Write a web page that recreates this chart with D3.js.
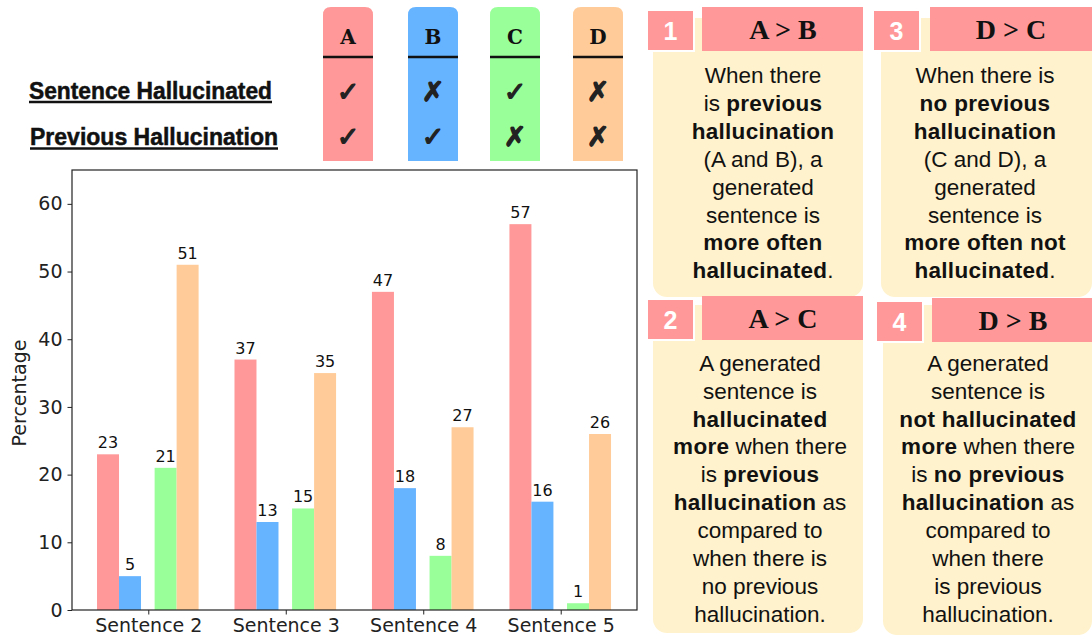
<!DOCTYPE html>
<meta charset="utf-8">
<html>
<head>
<script src="https://d3js.org/d3.v7.min.js"></script>
<style>
  body { margin: 0; background: #fff; }
  svg { display: block; }
</style>
</head>
<body>
<svg width="1092" height="641"></svg>
<script>

// chart values
var sentences = ["Sentence 2", "Sentence 3", "Sentence 4", "Sentence 5"];
var groups = ["A", "B", "C", "D"];
var valA = [23, 37, 47, 57];
var valB = [5, 13, 18, 16];
var valC = [21, 15, 8, 1];
var valD = [51, 35, 27, 26];
var yTicks = [0, 10, 20, 30, 40, 50, 60];

// legend table
var rowLabels = ["Sentence Hallucinated", "Previous Hallucination"];
var sentHall = [true, false, true, false];
var prevHall = [true, true, false, false];

// annotation cards: [text, bold]
var cards = [
  {num: "1", title: "A > B", lines: [
    [["When there", 0]], [["is ", 0], ["previous", 1]], [["hallucination", 1]],
    [["(A and B), a", 0]], [["generated", 0]], [["sentence is", 0]],
    [["more often", 1]], [["hallucinated", 1], [".", 0]]]},
  {num: "3", title: "D > C", lines: [
    [["When there is", 0]], [["no previous", 1]], [["hallucination", 1]],
    [["(C and D), a", 0]], [["generated", 0]], [["sentence is", 0]],
    [["more often not", 1]], [["hallucinated", 1], [".", 0]]]},
  {num: "2", title: "A > C", lines: [
    [["A generated", 0]], [["sentence is", 0]], [["hallucinated", 1]],
    [["more", 1], [" when there", 0]], [["is ", 0], ["previous", 1]],
    [["hallucination", 1], [" as", 0]], [["compared to", 0]], [["when there is", 0]],
    [["no previous", 0]], [["hallucination.", 0]]]},
  {num: "4", title: "D > B", lines: [
    [["A generated", 0]], [["sentence is", 0]], [["not hallucinated", 1]],
    [["more", 1], [" when there", 0]], [["is ", 0], ["no previous", 1]],
    [["hallucination", 1], [" as", 0]], [["compared to", 0]], [["when there", 0]],
    [["is previous", 0]], [["hallucination.", 0]]]}
];

var colors = {A: "#ff9999", B: "#66b3ff", C: "#99ff99", D: "#ffcc99"};
var pink = "#ff9999", cream = "#fff2cc";

var svg = d3.select("svg");

// ---------- bar chart ----------
var plot = {left: 72, right: 637, top: 170, bottom: 610};

var x = d3.scaleLinear()
    .domain([-0.555, sentences.length - 1 + 0.555])
    .range([plot.left, plot.right]);

var y = d3.scaleLinear()
    .domain([0, 65])
    .range([plot.bottom, plot.top]);

var barW = 0.16;
var offsets = {A: -0.293, B: -0.133, C: 0.126, D: 0.286};
var series = {A: valA, B: valB, C: valC, D: valD};

var bars = [];
groups.forEach(function(g) {
  series[g].forEach(function(v, i) {
    bars.push({g: g, i: i, v: v});
  });
});

svg.append("g")
  .selectAll("rect")
  .data(bars)
  .enter().append("rect")
    .attr("x", function(d) { return x(d.i + offsets[d.g] - barW / 2); })
    .attr("width", function(d) { return x(barW) - x(0); })
    .attr("y", function(d) { return y(d.v); })
    .attr("height", function(d) { return y(0) - y(d.v); })
    .attr("fill", function(d) { return colors[d.g]; });

svg.append("g")
  .selectAll("text")
  .data(bars)
  .enter().append("text")
    .attr("x", function(d) { return x(d.i + offsets[d.g]); })
    .attr("y", function(d) { return y(d.v) - 6; })
    .attr("text-anchor", "middle")
    .style("font", "16px 'DejaVu Sans'")
    .style("fill", "#111")
    .text(function(d) { return d.v; });

var yAxis = svg.append("g")
    .attr("transform", "translate(" + plot.left + ",0)")
    .call(d3.axisLeft(y).tickValues(yTicks).tickSize(4.5).tickPadding(5));

var xAxis = svg.append("g")
    .attr("transform", "translate(0," + plot.bottom + ")")
    .call(d3.axisBottom(x).tickValues(d3.range(sentences.length))
      .tickFormat(function(i) { return sentences[i]; })
      .tickSize(4.5).tickPadding(4));

[xAxis, yAxis].forEach(function(a) {
  a.select(".domain").remove();
  a.selectAll("line").attr("stroke", "#222");
  a.selectAll("text").style("font", "19px 'DejaVu Sans'").attr("fill", "#222");
});

svg.append("rect")
    .attr("x", plot.left).attr("y", plot.top)
    .attr("width", plot.right - plot.left).attr("height", plot.bottom - plot.top)
    .attr("fill", "none").attr("stroke", "#222").attr("stroke-width", 1.2);

svg.append("text")
    .attr("transform", "translate(26," + ((plot.top + plot.bottom) / 2 + 3) + ") rotate(-90)")
    .attr("text-anchor", "middle")
    .style("font", "19px 'DejaVu Sans'")
    .attr("fill", "#222")
    .text("Percentage");

// ---------- legend table ----------
var colX = [323, 408, 490, 573], colW = 50;
var rowY = [91, 136];

groups.forEach(function(g, i) {
  var x0 = colX[i], x1 = x0 + colW, y0 = 7, y1 = 161, r = 8;
  svg.append("path")
    .attr("d", "M" + x0 + "," + y1 + "V" + (y0 + r) + "Q" + x0 + "," + y0 + " " + (x0 + r) + "," + y0 +
      "H" + (x1 - r) + "Q" + x1 + "," + y0 + " " + x1 + "," + (y0 + r) + "V" + y1 + "Z")
    .attr("fill", colors[g]);
  svg.append("line")
    .attr("x1", x0).attr("x2", x1).attr("y1", 57).attr("y2", 57)
    .attr("stroke", "#111").attr("stroke-width", 2.6);
  svg.append("text")
    .attr("x", x0 + colW / 2).attr("y", 44)
    .attr("text-anchor", "middle")
    .style("font", "bold 20px 'DejaVu Serif'")
    .attr("fill", "#111")
    .text(g);
  [sentHall[i], prevHall[i]].forEach(function(ok, r) {
    svg.append("text")
      .attr("x", x0 + colW / 2).attr("y", rowY[r] + 10)
      .attr("text-anchor", "middle")
      .style("font", "italic bold 27px 'DejaVu Sans'")
      .attr("fill", "#222")
      .attr("stroke", "#222").attr("stroke-width", 1.3)
      .text(ok ? "\u2713" : "\u2717");
  });
});

var labelBase = [98.5, 145];
rowLabels.forEach(function(t, r) {
  var w = r === 0 ? 243 : 248, x0 = r === 0 ? 29 : 30;
  svg.append("text")
    .attr("x", x0).attr("y", labelBase[r])
    .attr("textLength", w).attr("lengthAdjust", "spacingAndGlyphs")
    .style("font", "bold 23px 'Liberation Sans'")
    .attr("fill", "#111")
    .attr("stroke", "#111").attr("stroke-width", 0.5)
    .text(t);
  svg.append("line")
    .attr("x1", x0).attr("x2", x0 + w)
    .attr("y1", labelBase[r] + 3.5).attr("y2", labelBase[r] + 3.5)
    .attr("stroke", "#111").attr("stroke-width", 2.6);
});

// ---------- annotation cards ----------
var cardPos = [
  {bx: 653, by: 18, bw: 210, bh: 279, sx: 647, sy: 10, hx: 702, hy: 7, hw: 161, ly: 75, cx: 763},
  {bx: 881, by: 18, bw: 211, bh: 279, sx: 873, sy: 10, hx: 930, hy: 7, hw: 162, ly: 75, cx: 985},
  {bx: 653, by: 305, bw: 210, bh: 328, sx: 647, sy: 299, hx: 702, hy: 296, hw: 161, ly: 362.7, cx: 760},
  {bx: 883, by: 305, bw: 209, bh: 330, sx: 876, sy: 301, hx: 932, hy: 298, hw: 160, ly: 362.7, cx: 988}
];

cards.forEach(function(c, k) {
  var p = cardPos[k];
  var g = svg.append("g");
  g.append("rect")
    .attr("x", p.bx).attr("y", p.by).attr("width", p.bw).attr("height", p.bh)
    .attr("rx", 14).attr("fill", cream);
  g.append("rect")
    .attr("x", p.sx).attr("y", p.sy).attr("width", 47).attr("height", 41)
    .attr("fill", pink).attr("stroke", "#fff").attr("stroke-width", 2);
  g.append("text")
    .attr("x", p.sx + 23.5).attr("y", p.sy + 30)
    .attr("text-anchor", "middle")
    .style("font", "bold 25px 'Liberation Sans'")
    .attr("fill", "#fff")
    .text(c.num);
  g.append("rect")
    .attr("x", p.hx).attr("y", p.hy).attr("width", p.hw).attr("height", 44)
    .attr("fill", pink);
  g.append("text")
    .attr("x", p.hx + 81).attr("y", p.hy + 32)
    .attr("text-anchor", "middle")
    .style("font", "bold 28px 'Liberation Serif'")
    .attr("fill", "#111")
    .text(c.title);

  c.lines.forEach(function(line, j) {
    var t = g.append("text")
      .attr("x", p.cx).attr("y", p.ly + j * 27.9 + 8)
      .attr("text-anchor", "middle")
      .style("font-family", "'Liberation Sans', Arial, sans-serif")
      .style("font-size", "22.5px")
      .attr("fill", "#111");
    line.forEach(function(seg) {
      t.append("tspan")
        .style("font-weight", seg[1] ? "bold" : "normal")
        .style("letter-spacing", seg[1] ? "0.3px" : "0px")
        .text(seg[0]);
    });
  });
});

</script>
</body>
</html>
